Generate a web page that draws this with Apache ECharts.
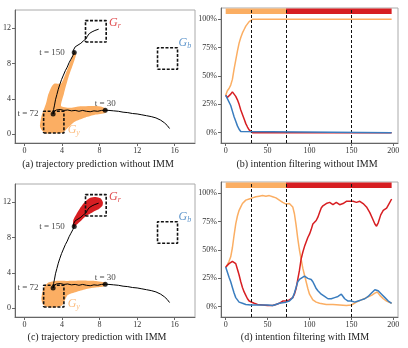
<!DOCTYPE html>
<html>
<head>
<meta charset="utf-8">
<script src="https://cdn.jsdelivr.net/npm/echarts@6/dist/echarts.min.js"></script>
<style>
  html, body { margin: 0; padding: 0; background: #fff; }
  #chart { width: 408px; height: 348px; }
</style>
</head>
<body>
<div id="chart"></div>
<script>
// ground-truth trajectory (same in a and c)
var trajX = [15.45, 15.2, 14.9, 14.5, 14.0, 13.5, 13.0, 12.5, 12.0, 11.5, 11.0, 10.5, 10.0, 9.5, 9.0, 8.6,
  8.2, 7.8, 7.4, 7.0, 6.6, 6.2, 5.8, 5.4, 5.0, 4.6, 4.2, 3.8, 3.4, 3.15, 3.05,
  3.1, 3.2, 3.3, 3.45, 3.6, 3.75, 3.95, 4.15, 4.35, 4.55, 4.75, 4.95, 5.15, 5.3,
  5.2, 5.1, 5.4, 5.7, 6.0, 6.3, 6.55, 6.7, 6.9, 7.2, 7.5, 7.9];
var trajY = [0.65, 1.0, 1.3, 1.6, 1.85, 2.0, 2.1, 2.2, 2.3, 2.35, 2.45, 2.5, 2.6, 2.65, 2.7, 2.72,
  2.7, 2.6, 2.65, 2.55, 2.6, 2.7, 2.6, 2.7, 2.65, 2.75, 2.7, 2.8, 2.75, 2.6, 2.3,
  2.8, 3.3, 3.9, 4.5, 5.1, 5.6, 6.2, 6.7, 7.2, 7.6, 8.1, 8.5, 8.9, 9.25,
  9.5, 9.7, 9.9, 10.1, 10.3, 10.6, 10.8, 11.1, 11.4, 11.6, 11.75, 11.9];

var keyPoints = [[8.6, 2.72, 't = 30'], [3.05, 2.3, 't = 72'], [5.3, 9.25, 't = 150']];

// goal regions
var goalR = [[6.5, 10.45], [8.7, 10.45], [8.7, 12.87], [6.5, 12.87], [6.5, 10.45]];
var goalB = [[14.17, 7.36], [16.3, 7.36], [16.3, 9.8], [14.17, 9.8], [14.17, 7.36]];
var goalY = [[2.04, 0.15], [4.2, 0.15], [4.2, 2.6], [2.04, 2.6], [2.04, 0.15]];

// predicted spread, panel (a)
var spreadA = [[5.3, 9.4], [5.5, 9.1], [5.2, 8.0], [4.7, 6.5], [4.2, 4.6], [3.9, 3.2], [4.8, 3.0], [5.8, 3.15],
  [7.5, 3.2], [8.3, 3.1], [8.8, 2.8], [8.6, 2.4], [7.5, 2.2], [6.5, 1.9], [5.3, 1.4], [4.6, 0.7], [4.1, 0.2],
  [3.0, 0.1], [2.2, 0.1], [1.8, 0.5], [1.65, 0.9], [1.8, 2.0], [2.3, 3.5], [2.5, 4.4], [2.9, 5.4], [3.2, 5.75],
  [3.9, 5.75], [4.4, 6.9], [4.95, 8.4]];
// predicted spread, panel (c)
var spreadCy = [[8.7, 2.9], [7.5, 3.1], [6.0, 3.15], [4.5, 3.1], [3.3, 3.1], [2.6, 2.95], [2.2, 2.6], [1.9, 1.8],
  [1.8, 1.0], [2.0, 0.4], [2.6, 0.1], [3.4, 0.1], [4.0, 0.3], [4.3, 0.9], [4.6, 1.5], [5.5, 1.85], [6.5, 2.15],
  [7.5, 2.35], [8.5, 2.5]];
var spreadCr = [[5.2, 9.2], [5.9, 9.8], [6.5, 10.4], [7.3, 10.9], [7.9, 11.2], [8.3, 11.6], [8.35, 12.0],
  [8.1, 12.45], [7.6, 12.6], [7.0, 12.5], [6.4, 12.0], [5.9, 11.3], [5.5, 10.6], [5.2, 10.0]];

// intention probabilities without IMM (b)
var bYellow = [[0, 33], [2, 37], [4, 39], [6, 42], [8, 47], [10, 56], [12, 64], [14, 72], [16, 79], [18, 84],
  [20, 88], [22, 91], [24, 94], [26, 96], [28, 98], [30, 99.5], [32, 100], [198, 100]];
var bRed = [[0, 33], [2, 31], [4, 31], [6, 34], [8, 36], [10, 34], [12, 32], [14, 29], [16, 25], [18, 20],
  [20, 16], [22, 12], [24, 8], [26, 5], [28, 2.5], [30, 1], [32, 0], [198, 0]];
var bBlue = [[0, 33], [2, 30], [4, 29], [6, 24], [8, 19], [10, 14], [12, 10], [14, 6], [16, 3], [18, 1],
  [20, 0], [198, 0]];

// intention probabilities with IMM (d)
var dYellow = [[0, 34], [4, 40], [6, 44], [8, 52], [10, 63], [12, 73], [14, 80], [16, 85], [18, 88], [20, 91],
  [24, 94], [28, 95], [32, 96], [36, 97], [40, 97.5], [44, 98], [48, 97.5], [52, 98], [56, 97], [60, 96],
  [64, 94], [68, 92], [72, 90.5], [76, 91], [80, 88], [82, 82], [84, 72], [86, 60], [88, 50], [90, 42],
  [92, 34], [94, 28], [96, 22], [98, 16], [100, 11], [104, 6], [108, 4], [112, 3], [120, 2], [128, 2],
  [136, 1.5], [144, 1], [150, 1.5], [156, 4], [162, 6], [168, 8], [174, 10], [178, 12], [181, 13],
  [184, 10], [188, 7], [192, 5], [198, 3]];
var dRed = [[0, 35], [4, 38], [6, 37], [8, 40], [10, 41], [12, 38], [14, 33], [16, 28], [18, 22], [20, 17],
  [22, 13], [24, 10], [26, 7], [28, 5], [30, 4], [34, 3], [38, 2], [44, 1.5], [50, 1], [56, 1], [60, 2],
  [64, 3], [68, 5], [70, 6], [72, 5], [76, 6], [80, 8], [82, 11], [84, 16], [86, 24], [88, 32], [90, 42],
  [92, 48], [94, 53], [96, 57], [98, 61], [100, 64], [102, 68], [104, 73], [106, 74], [108, 76], [110, 79],
  [112, 83], [114, 87], [116, 89], [120, 91], [124, 92], [128, 90], [132, 92], [136, 90], [140, 91],
  [144, 93], [148, 93], [152, 93], [156, 92], [160, 93], [164, 91], [168, 88], [172, 83], [175, 78],
  [178, 73], [180, 71], [182, 74], [185, 81], [188, 85], [192, 87], [195, 91], [198, 95]];
var dBlue = [[0, 35], [4, 26], [6, 22], [8, 17], [10, 12], [12, 8], [14, 6], [16, 4], [20, 3], [24, 2],
  [30, 1.5], [40, 1.5], [50, 1.5], [56, 1], [60, 2], [64, 3], [68, 3.5], [72, 4], [76, 5], [80, 8],
  [82, 12], [84, 17], [86, 22], [88, 24], [90, 25], [94, 27], [96, 28], [98, 25], [100, 26], [102, 24],
  [104, 22], [106, 19], [108, 16], [110, 14], [114, 11], [118, 9], [122, 7], [126, 7], [130, 8], [134, 9],
  [138, 11], [140, 10], [142, 7], [146, 5], [150, 5], [154, 4], [158, 5], [162, 6], [166, 7], [170, 9],
  [174, 12], [178, 15], [180, 16], [182, 14], [186, 11], [190, 8], [194, 5], [198, 3]];

var eventTimes = [30, 72, 150];
var intentBar = [[0, 72, 'y'], [72, 198, 'r']];
var trajTicks = [0, 4, 8, 12, 16];
var trajYTicks = [0, 4, 8, 12];
var timeTicks = [0, 50, 100, 150, 200];
var probTicks = [0, 25, 50, 75, 100];

var C = { y: '#fbae63', r: '#d71e22', b: '#3a7dbf' };
var SERIF = '"Liberation Serif", "DejaVu Serif", serif';

var chart = echarts.init(document.getElementById('chart'), null, { renderer: 'canvas' });

function axisBase(ticks, fmt) {
  return {
    type: 'value',
    axisLine: { show: true, onZero: false, lineStyle: { color: '#666', width: 1 } },
    axisTick: { show: true, length: 3, customValues: ticks, lineStyle: { color: '#666' } },
    axisLabel: { customValues: ticks, fontSize: 8, fontFamily: SERIF, color: '#333', margin: 4,
      formatter: fmt || function (v) { return v; } },
    splitLine: { show: false }
  };
}

var grids = [
  { left: 11, top: 10, width: 184, height: 133 },
  { left: 221, top: 8, width: 177, height: 135 },
  { left: 11, top: 184, width: 184, height: 133 },
  { left: 221, top: 182, width: 177, height: 135 }
].map(function (g) {
  return Object.assign({ show: true, borderColor: '#aaa', borderWidth: 1, backgroundColor: 'transparent' }, g);
});

var xAxes = [], yAxes = [];
[0, 2].forEach(function (i) {
  xAxes[i] = Object.assign(axisBase(trajTicks), { gridIndex: i, min: -1.01, max: 18.16 });
  yAxes[i] = Object.assign(axisBase(trajYTicks), { gridIndex: i, min: -0.99, max: 14.07 });
});
[1, 3].forEach(function (i) {
  xAxes[i] = Object.assign(axisBase(timeTicks), { gridIndex: i, min: -5.6, max: 205.6 });
  yAxes[i] = Object.assign(axisBase(probTicks, function (v) { return v + '%'; }),
    { gridIndex: i, min: -9.1, max: 110 });
});

function polySeries(idx, pts, color) {
  return {
    type: 'custom', xAxisIndex: idx, yAxisIndex: idx, z: 1, silent: true,
    data: pts,
    renderItem: function (params, api) {
      if (params.dataIndex !== 0) return null;
      return {
        type: 'polygon',
        shape: { points: pts.map(function (p) { return api.coord(p); }), smooth: 0.2 },
        style: { fill: color }
      };
    }
  };
}

function boxSeries(idx, pts) {
  return {
    type: 'line', xAxisIndex: idx, yAxisIndex: idx, z: 4, data: pts, showSymbol: false,
    lineStyle: { color: '#111', width: 1.6, type: [3, 1.6] }
  };
}

function goalLabel(idx, x, y, sub, color) {
  return {
    type: 'scatter', xAxisIndex: idx, yAxisIndex: idx, z: 5, symbolSize: 0,
    data: [[x, y]],
    label: {
      show: true, position: 'right', distance: 0,
      formatter: '{g|G}{s|' + sub + '}',
      rich: {
        g: { fontFamily: SERIF, fontStyle: 'italic', fontSize: 12, color: color },
        s: { fontFamily: SERIF, fontStyle: 'italic', fontSize: 8, color: color, padding: [6, 0, 0, 0] }
      }
    }
  };
}

// label placement for key points: [position, distance]
var keyLabelPos = { 't = 30': ['top', 0], 't = 72': ['left', 12], 't = 150': ['left', 7] };

function trajPanel(idx, spreads) {
  var s = spreads.map(function (sp) { return polySeries(idx, sp[0], sp[1]); });
  s.push({
    type: 'line', xAxisIndex: idx, yAxisIndex: idx, z: 3, showSymbol: false,
    data: trajX.map(function (x, i) { return [x, trajY[i]]; }),
    lineStyle: { color: '#000', width: 1 }
  });
  s.push(boxSeries(idx, goalR), boxSeries(idx, goalB), boxSeries(idx, goalY));
  s.push({
    type: 'scatter', xAxisIndex: idx, yAxisIndex: idx, z: 6, symbolSize: 5,
    itemStyle: { color: '#000' },
    data: keyPoints.map(function (p) {
      var lp = keyLabelPos[p[2]];
      return {
        value: [p[0], p[1]],
        label: {
          show: true, formatter: p[2], position: lp[0], distance: lp[1],
          fontFamily: SERIF, fontSize: 9, color: '#111'
        }
      };
    })
  });
  s.push(goalLabel(idx, 9.0, 12.6, 'r', C.r));
  s.push(goalLabel(idx, 16.4, 10.4, 'b', C.b));
  s.push(goalLabel(idx, 4.6, 0.5, 'y', C.y));
  return s;
}

function probPanel(idx, yel, red, blue) {
  var lines = [[yel, C.y], [red, C.r], [blue, C.b]].map(function (d, k) {
    return {
      type: 'line', xAxisIndex: idx, yAxisIndex: idx, z: 3 + k, showSymbol: false,
      data: d[0], lineStyle: { color: d[1], width: 1.5 }
    };
  });
  lines.push({
    type: 'line', xAxisIndex: idx, yAxisIndex: idx, z: 2, data: [], showSymbol: false,
    markArea: {
      silent: true,
      data: intentBar.map(function (b) {
        return [{ xAxis: b[0], yAxis: 104.8, itemStyle: { color: C[b[2]] } }, { xAxis: b[1], yAxis: 109.5 }];
      })
    }
  });
  lines.push({
    type: 'line', xAxisIndex: idx, yAxisIndex: idx, z: 8, data: [], showSymbol: false,
    markLine: {
      silent: true, symbol: 'none', label: { show: false },
      lineStyle: { color: '#111', type: [3, 2], width: 1 },
      data: eventTimes.map(function (t) { return { xAxis: t }; })
    }
  });
  return lines;
}

var series = [].concat(
  trajPanel(0, [[spreadA, C.y]]),
  probPanel(1, bYellow, bRed, bBlue),
  trajPanel(2, [[spreadCy, C.y], [spreadCr, C.r]]),
  probPanel(3, dYellow, dRed, dBlue)
);

var captions = [
  [98, 164, '(a) trajectory prediction without IMM'],
  [307, 164, '(b) intention filtering without IMM'],
  [97, 337, '(c) trajectory prediction with IMM'],
  [305, 337, '(d) intention filtering with IMM']
];

chart.setOption({
  animation: false,
  backgroundColor: '#fff',
  grid: grids,
  xAxis: xAxes,
  yAxis: yAxes,
  series: series,
  graphic: captions.map(function (c) {
    return {
      type: 'text', x: c[0], y: c[1],
      style: { text: c[2], fontFamily: SERIF, fontSize: 10, fill: '#222', align: 'center', verticalAlign: 'middle' }
    };
  })
});
</script>
</body>
</html>
